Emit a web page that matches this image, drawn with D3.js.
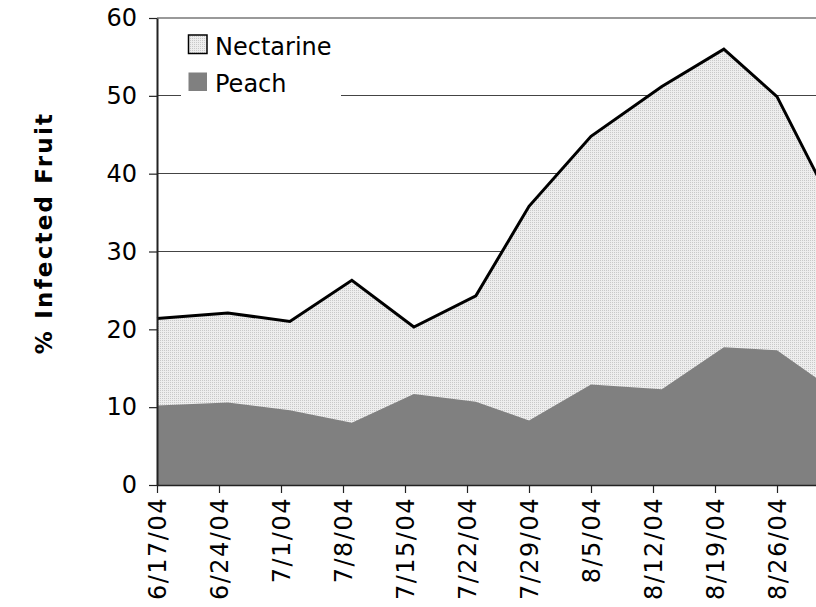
<!DOCTYPE html>
<html>
<head>
<meta charset="utf-8">
<script src="https://cdn.jsdelivr.net/npm/d3@7"></script>
<style>
  html, body { margin: 0; padding: 0; background: #fff; overflow: hidden; }
  svg { display: block; }
  text { font-family: "DejaVu Sans", Verdana, sans-serif; }
</style>
</head>
<body>
<div id="chart"></div>
<script>
// ---- data ----
const sampleDates = ["2004-06-17","2004-06-25","2004-07-02","2004-07-09","2004-07-16","2004-07-23",
                     "2004-07-29","2004-08-05","2004-08-13","2004-08-20","2004-08-26","2004-09-02"];
const nectarine = [21.4, 22.1, 21.0, 26.3, 20.3, 24.3, 35.8, 44.8, 51.2, 56.0, 49.9, 34.3];
const peach     = [10.2, 10.6,  9.6,  8.0, 11.7, 10.7,  8.3, 12.9, 12.3, 17.7, 17.3, 11.7];
const tickLabels = ["6/17/04","6/24/04","7/1/04","7/8/04","7/15/04","7/22/04",
                    "7/29/04","8/5/04","8/12/04","8/19/04","8/26/04"];
const yTicks = [0, 10, 20, 30, 40, 50, 60];
const seriesNames = ["Nectarine", "Peach"];
const yTitle = "% Infected Fruit";

(function () {
// ---- layout ----
const W = 816, H = 607;
const pLeft = 157, pTop = 18, pBottom = 485, pRight = 839;

const parseISO = d3.utcParse("%Y-%m-%d");
const parseLbl = d3.utcParse("%m/%d/%y");
const dates = sampleDates.map(parseISO);
const tickDates = tickLabels.map(parseLbl);

const x = d3.scaleUtc().domain([parseISO("2004-06-17"), parseISO("2004-09-02")]).range([pLeft, pRight]);
const y = d3.scaleLinear().domain([0, 60]).range([pBottom, pTop]);

const svg = d3.select("#chart").append("svg").attr("width", W).attr("height", H);

// pattern for the nectarine fill
const defs = svg.append("defs");
const pat = defs.append("pattern").attr("id", "dots").attr("patternUnits", "userSpaceOnUse")
  .attr("width", 2).attr("height", 2);
pat.append("rect").attr("width", 2).attr("height", 2).attr("fill", "#eeeeee");
pat.append("rect").attr("width", 1).attr("height", 1).attr("fill", "#c9c9c9");

// gridlines
svg.append("g").selectAll("line").data(yTicks.filter(v => v > 0 && v < 60)).join("line")
  .attr("x1", pLeft).attr("x2", W).attr("y1", d => y(d)).attr("y2", d => y(d))
  .attr("stroke", "#444").attr("stroke-width", 1).attr("shape-rendering", "crispEdges");
// top border of the plot
svg.append("line").attr("x1", pLeft).attr("x2", W).attr("y1", y(60)).attr("y2", y(60))
  .attr("stroke", "#999").attr("stroke-width", 2);

// areas
const nData = dates.map((d, i) => ({ d, v: nectarine[i] }));
const pData = dates.map((d, i) => ({ d, v: peach[i] }));
const area = d3.area().x(p => x(p.d)).y0(y(0)).y1(p => y(p.v));
const line = d3.line().x(p => x(p.d)).y(p => y(p.v));

svg.append("path").datum(nData).attr("d", area).attr("fill", "url(#dots)");
svg.append("path").datum(pData).attr("d", area).attr("fill", "#808080");
svg.append("path").datum(nData).attr("d", line).attr("fill", "none")
  .attr("stroke", "#000").attr("stroke-width", 3).attr("stroke-linejoin", "miter");

// x axis
const xAxis = svg.append("g").attr("transform", `translate(0,${pBottom})`)
  .call(d3.axisBottom(x).tickValues(tickDates).tickFormat((d, i) => tickLabels[i])
        .tickSize(8).tickSizeOuter(0).tickPadding(0));
xAxis.select(".domain").attr("stroke", "#222").attr("stroke-width", 1.5);
xAxis.selectAll(".tick line").attr("stroke", "#222").attr("stroke-width", 1.2);
xAxis.selectAll(".tick text")
  .attr("transform", "rotate(-90)")
  .attr("text-anchor", "end")
  .attr("x", -12).attr("y", 0).attr("dy", "0.36em")
  .attr("font-size", 24).attr("fill", "#000").attr("letter-spacing", "1.5px")
  .style("font-family", "'DejaVu Sans', Verdana, sans-serif");

// y axis
const yAxis = svg.append("g").attr("transform", `translate(${pLeft},0)`)
  .call(d3.axisLeft(y).tickValues(yTicks).tickSize(8).tickSizeOuter(0).tickPadding(12));
yAxis.select(".domain").attr("stroke", "#222").attr("stroke-width", 2);
yAxis.selectAll(".tick line").attr("stroke", "#222").attr("stroke-width", 1.2);
yAxis.selectAll(".tick text").attr("font-size", 24).attr("fill", "#000")
  .style("font-family", "'DejaVu Sans', Verdana, sans-serif");

// y title
svg.append("text")
  .attr("transform", "translate(44,233) rotate(-90)")
  .attr("text-anchor", "middle").attr("dy", "0.36em")
  .attr("font-size", 23).attr("font-weight", "bold").attr("letter-spacing", "2.2px")
  .attr("fill", "#000").text(yTitle);

// legend
const lg = svg.append("g");
lg.append("rect").attr("x", 181).attr("y", 26).attr("width", 160).attr("height", 76).attr("fill", "#fff");
const swatchFill = ["url(#dots)", "#808080"];
const swatchStroke = ["#000", "none"];
seriesNames.forEach((name, i) => {
  const yy = 35 + i * 37.5;
  lg.append("rect").attr("x", 188.5).attr("y", yy).attr("width", 18.5).attr("height", 18.5)
    .attr("fill", swatchFill[i]).attr("stroke", swatchStroke[i]).attr("stroke-width", 1.5);
  lg.append("text").attr("x", 215).attr("y", yy + 19.5).attr("font-size", 24).attr("fill", "#000").text(name);
});
})();
</script>
</body>
</html>
